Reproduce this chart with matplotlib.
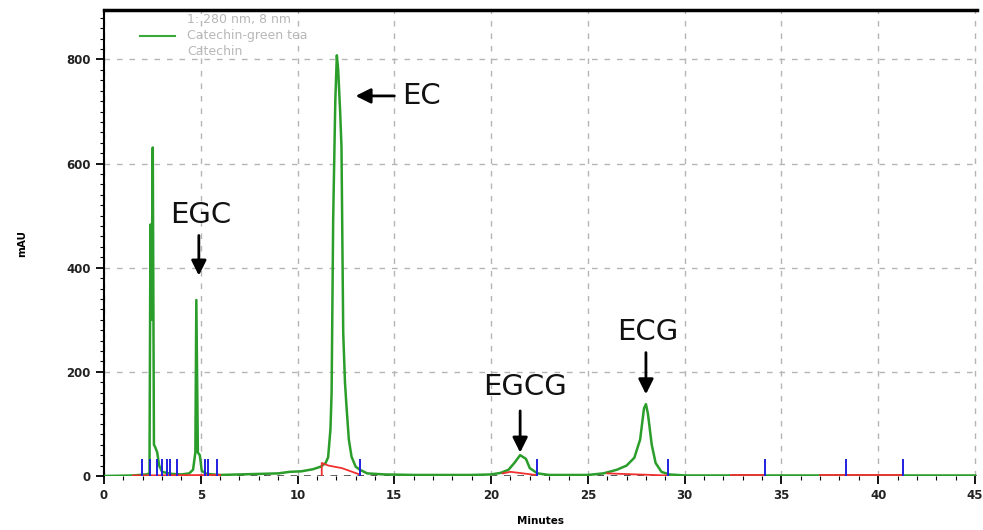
import matplotlib.pyplot as plt
from matplotlib.ticker import MultipleLocator

# chromatogram trace (minutes, mAU)
green_t = [0.0, 1.5, 2.2, 2.35, 2.40, 2.45, 2.52, 2.58, 2.65, 2.75, 2.85, 3.0, 3.5, 4.0,
           4.4, 4.6, 4.72, 4.77, 4.85, 4.95, 5.05, 5.3, 6.0, 7.0, 8.0, 9.0, 9.6, 10.2,
           10.8, 11.2, 11.45, 11.58, 11.7, 11.76, 11.84, 11.95, 12.03, 12.1, 12.2, 12.27,
           12.36, 12.45, 12.53, 12.65, 12.79, 13.0, 13.22, 13.6, 14.5, 16.0, 19.0, 20.0,
           20.5, 20.9, 21.2, 21.5, 21.8, 22.0, 22.4, 23.0, 25.0, 25.8, 26.5, 27.0, 27.4,
           27.7, 27.9, 28.0, 28.1, 28.3, 28.5, 28.8, 29.2, 30.0, 45.0]
green_v = [0, 1, 3, 5, 483, 300, 631, 60, 55, 45, 20, 8, 4, 3,
           5, 12, 45, 338, 45, 40, 10, 4, 2, 3, 4, 5, 8, 9,
           13, 18, 25, 36, 90, 160, 492, 720, 808, 780, 700, 632,
           275, 180, 133, 70, 37, 18, 12, 5, 3, 2, 2, 3,
           6, 12, 25, 40, 33, 15, 5, 2, 2, 5, 12, 20, 35,
           70, 130, 138, 120, 60, 25, 8, 3, 1, 1]

# integration baselines (red)
red_segments = [
    ([1.5, 6.0], [1, 2]),
    ([11.25, 11.25, 11.6, 12.3, 13.2], [0, 25, 20, 15, 3]),
    ([20.6, 21.0, 22.3], [5, 8, 2]),
    ([26.0, 29.1], [5, 1]),
    ([32.4, 34.1], [1, 1]),
    ([37.0, 41.3], [1, 1]),
]

# peak boundary marks (blue)
blue_ticks = [1.94, 2.38, 2.72, 2.98, 3.23, 3.4, 3.75, 5.22, 5.39, 5.85,
              13.22, 22.38, 29.15, 34.14, 38.36, 41.29]
blue_height = 32

# peak labels: text, text position, arrow tail, arrow head
peak_names = ['EC', 'EGC', 'EGCG', 'ECG']
peak_text_xy = [(16.4, 730), (5.0, 502), (21.75, 171), (28.1, 277)]
arrow_tail = [(15.0, 730), (4.9, 462), (21.5, 125), (28.0, 237)]
arrow_head = [(13.0, 730), (4.9, 385), (21.5, 45), (28.0, 157)]

legend_lines = ['1: 280 nm, 8 nm', 'Catechin-green tea', 'Catechin']

fig = plt.figure(figsize=(9.83, 5.30), dpi=100)
ax = fig.add_axes([0.1058, 0.1019, 0.888, 0.8792])

ax.set_xlim(0, 45.1)
ax.set_ylim(0, 895)

ax.xaxis.set_major_locator(MultipleLocator(5))
ax.xaxis.set_minor_locator(MultipleLocator(1))
ax.yaxis.set_major_locator(MultipleLocator(200))
ax.yaxis.set_minor_locator(MultipleLocator(20))
ax.grid(True, which='major', color='#b5b5b5', linestyle=(0, (4, 5)), linewidth=1)
ax.axhline(0, color='#333333', linestyle=(0, (4, 4)), linewidth=1.2, zorder=1)

ax.plot(green_t, green_v, color='#2a9d2a', linewidth=1.8, zorder=3)
for seg_t, seg_v in red_segments:
    ax.plot(seg_t, seg_v, color='#f03030', linewidth=1.3, zorder=4)
ax.vlines(blue_ticks, 0, blue_height, color='#2020e0', linewidth=1.4, zorder=5)

for name, txy, tail, head in zip(peak_names, peak_text_xy, arrow_tail, arrow_head):
    ax.annotate('', xy=head, xytext=tail,
                arrowprops=dict(arrowstyle='-|>,head_length=0.9,head_width=0.45',
                                color='black', lw=2, shrinkA=0, shrinkB=0))
    ax.text(txy[0], txy[1], name, fontsize=21, ha='center', va='center', color='#111111')

# legend block
ax.plot([0.041, 0.081], [0.945, 0.945], transform=ax.transAxes, color='#3aa83a', lw=1.5)
for i, line in enumerate(legend_lines):
    ax.text(0.095, 0.979 - i * 0.034, line, transform=ax.transAxes, fontsize=9,
            color='#b8b8b8', va='center')

for side in ['right', 'bottom']:
    ax.spines[side].set_visible(False)
ax.spines['left'].set_linewidth(1.5)
ax.spines['top'].set_linewidth(2.5)
ax.tick_params(which='major', length=6, width=1.3, labelsize=8.5, labelcolor='#222222')
ax.tick_params(which='minor', length=3, width=0.8)
for lab in ax.get_xticklabels() + ax.get_yticklabels():
    lab.set_fontweight('bold')

ax.set_xlabel('Minutes', fontsize=7.5, fontweight='bold', labelpad=10)
ax.set_ylabel('mAU', fontsize=7.5, fontweight='bold', labelpad=28)

fig.savefig('out.png', dpi=100)
